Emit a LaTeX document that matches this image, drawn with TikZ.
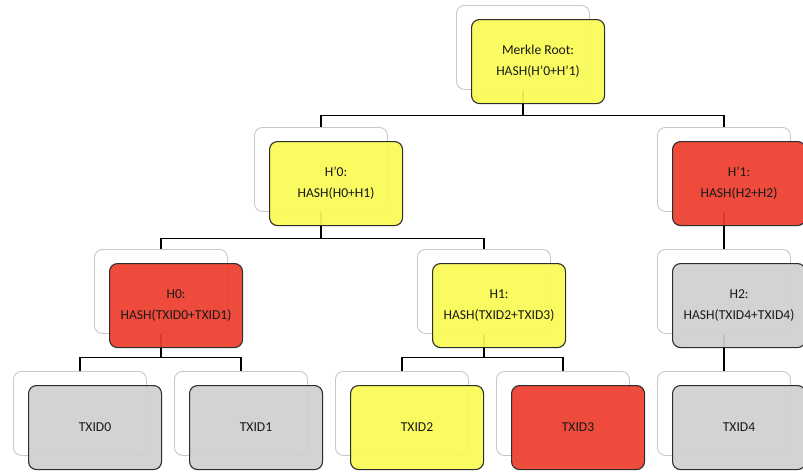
\documentclass[tikz,border=0pt]{standalone}
\usepackage{fontspec}
\setmainfont{Carlito}
\definecolor{ylw}{RGB}{250,250,85}
\definecolor{rd}{RGB}{237,62,46}
\definecolor{gry}{RGB}{208,208,208}
\definecolor{backline}{RGB}{200,200,200}
\definecolor{frontline}{RGB}{45,45,45}
\begin{document}
\begin{tikzpicture}[x=1pt,y=-1pt,
  backbox/.style={draw=backline,line width=0.9pt,fill=white,rounded corners=8pt,
    minimum width=133pt,minimum height=84pt,anchor=north west,inner sep=0pt},
  frontbox/.style={draw=frontline,line width=1.1pt,rounded corners=8pt,
    fill opacity=0.93,text opacity=1,
    minimum width=133pt,minimum height=84pt,anchor=north west,inner sep=0pt,
    align=center,font=\fontsize{13.6}{21}\selectfont,text=black!90},
  link/.style={draw=black,line width=1.1pt}]
\useasboundingbox (0,0) rectangle (803,472);
\clip (0,0) rectangle (803,472);
% back boxes
\node[backbox] (rootb) at (456,5) {};
\node[backbox] (hp0b) at (254,127) {};
\node[backbox] (hp1b) at (657,127) {};
\node[backbox] (h0b) at (94,249) {};
\node[backbox] (h1b) at (417,249) {};
\node[backbox] (h2b) at (657,249) {};
\node[backbox] (t0b) at (13,371) {};
\node[backbox] (t1b) at (174,371) {};
\node[backbox] (t2b) at (335,371) {};
\node[backbox] (t3b) at (496,371) {};
\node[backbox] (t4b) at (657,371) {};
% junctions
\path (rootb.south) ++(0,26) coordinate (j1);
\path (hp0b.south) ++(0,27) coordinate (j2);
\path (h0b.south) ++(0,24) coordinate (j3);
\path (h1b.south) ++(0,24) coordinate (j4);
% connectors
\draw[link] (rootb.south) -- (j1);
\draw[link] (hp0b.north) |- (j1) -| (hp1b.north);
\draw[link] (hp0b.south) -- (j2);
\draw[link] (h0b.north) |- (j2) -| (h1b.north);
\draw[link] (hp1b.south) -- (h2b.north);
\draw[link] (h0b.south) -- (j3);
\draw[link] (t0b.north) |- (j3) -| (t1b.north);
\draw[link] (h1b.south) -- (j4);
\draw[link] (t2b.north) |- (j4) -| (t3b.north);
\draw[link] (h2b.south) -- (t4b.north);
% front boxes
\node[frontbox,fill=ylw] (root) at (471,19) {Merkle Root:\\HASH(H’0+H’1)};
\node[frontbox,fill=ylw] (hp0) at (269,141) {H’0:\\HASH(H0+H1)};
\node[frontbox,fill=rd] (hp1) at (672,141) {H’1:\\HASH(H2+H2)};
\node[frontbox,fill=rd] (h0) at (109,263) {H0:\\HASH(TXID0+TXID1)};
\node[frontbox,fill=ylw] (h1) at (432,263) {H1:\\HASH(TXID2+TXID3)};
\node[frontbox,fill=gry] (h2) at (672,263) {H2:\\HASH(TXID4+TXID4)};
\node[frontbox,fill=gry] (t0) at (28,385) {TXID0};
\node[frontbox,fill=gry] (t1) at (189,385) {TXID1};
\node[frontbox,fill=ylw] (t2) at (350,385) {TXID2};
\node[frontbox,fill=rd] (t3) at (511,385) {TXID3};
\node[frontbox,fill=gry] (t4) at (672,385) {TXID4};
\end{tikzpicture}
\end{document}
